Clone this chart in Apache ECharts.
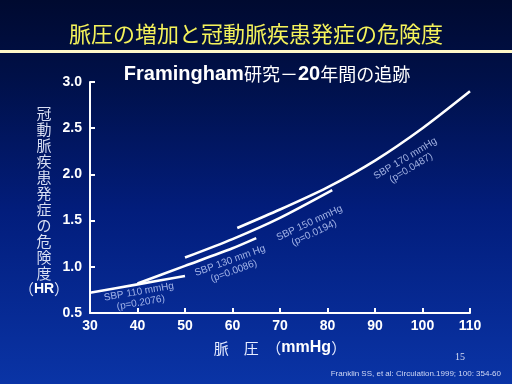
<!DOCTYPE html>
<html>
<head>
<meta charset="utf-8">
<script src="https://cdn.jsdelivr.net/npm/echarts@6/dist/echarts.min.js"></script>
<style>
html,body{margin:0;padding:0;background:#000a30;}
#c{width:512px;height:384px;}
</style>
</head>
<body>
<div id="c"></div>
<script>
// ---- data ----
const xTicks = [30, 40, 50, 60, 70, 80, 90, 100, 110];
const yTicks = [0.5, 1.0, 1.5, 2.0, 2.5, 3.0];

const sbp110X = [30, 40, 50];
const sbp110Y = [0.72, 0.81, 0.90];
const sbp130X = [40, 50, 60, 65];
const sbp130Y = [0.82, 1.01, 1.20, 1.31];
const sbp150X = [50, 60, 70, 81];
const sbp150Y = [1.10, 1.30, 1.53, 1.83];
const sbp170X = [61, 70, 80, 90, 100, 110];
const sbp170Y = [1.42, 1.62, 1.86, 2.15, 2.50, 2.90];

const labelText = ['SBP 110 mmHg\n(p=0.2076)', 'SBP 130 mm Hg\n(p=0.0086)', 'SBP 150 mmHg\n(p=0.0194)', 'SBP 170 mmHg\n(p=0.0487)'];
const labelX = [40.5, 59.9, 76.7, 97.0];
const labelY = [0.67, 1.01, 1.42, 2.12];

const titleText = '脈圧の増加と冠動脈疾患発症の危険度';
const yNameChars = ['冠', '動', '脈', '疾', '患', '発', '症', 'の', '危', '険', '度'];
const citation = 'Franklin SS, et al: Circulation.1999; 100: 354-60';
const pageNo = '15';

// ---- build ----
const zip = (xs, ys) => xs.map((x, i) => [x, ys[i]]);
const labelRot = [10, 20, 25, 31];

const chart = echarts.init(document.getElementById('c'), null, {renderer: 'canvas'});

const lineSeries = (xs, ys) => ({
  type: 'line',
  data: zip(xs, ys),
  smooth: 0.25,
  symbol: 'none',
  lineStyle: {color: '#ffffff', width: 2.6},
  silent: true,
  z: 3
});

chart.setOption({
  animation: false,
  backgroundColor: {
    type: 'linear', x: 0, y: 0, x2: 0, y2: 1,
    colorStops: [
      {offset: 0, color: '#000a30'},
      {offset: 0.2, color: '#001048'},
      {offset: 0.55, color: '#021d7c'},
      {offset: 1, color: '#0a34a6'}
    ]
  },
  grid: {left: 90, right: 42, top: 82, bottom: 71},
  xAxis: {
    type: 'value', min: 30, max: 110, interval: 10,
    axisLine: {show: true, lineStyle: {color: '#ffffff', width: 2}},
    axisTick: {show: true, inside: true, length: 5, lineStyle: {color: '#ffffff', width: 2}},
    splitLine: {show: false},
    axisLabel: {
      color: '#ffffff', fontSize: 14, fontWeight: 'bold',
      fontFamily: 'Liberation Sans, Arial, sans-serif', margin: 6
    },
    name: '{c|脈　圧　（}{b|mmHg}{c|）}',
    nameLocation: 'middle',
    nameGap: 27,
    nameTextStyle: {
      rich: {
        c: {color: '#e6ecff', fontSize: 15, fontFamily: 'Noto Sans CJK JP'},
        b: {color: '#ffffff', fontSize: 16, fontWeight: 'bold', fontFamily: 'Liberation Sans, Arial'}
      }
    }
  },
  yAxis: {
    type: 'value', min: 0.5, max: 3.0, interval: 0.5,
    axisLine: {show: true, lineStyle: {color: '#ffffff', width: 2}},
    axisTick: {show: true, inside: true, length: 5, lineStyle: {color: '#ffffff', width: 2}},
    splitLine: {show: false},
    axisLabel: {
      color: '#ffffff', fontSize: 14, fontWeight: 'bold',
      fontFamily: 'Liberation Sans, Arial, sans-serif', margin: 8,
      formatter: v => v.toFixed(1)
    }
  },
  graphic: [
    {type: 'rect', left: 0, top: 50, shape: {width: 512, height: 3}, style: {fill: '#fff8c8'}, silent: true},
    {type: 'text', left: 'center', top: 23, style: {
      text: titleText, fill: '#f4f25a', fontSize: 22, fontFamily: 'Noto Sans CJK JP'
    }},
    {type: 'text', x: 267, y: 74, style: {
      text: '{l|Framingham}{j|研究－}{l|20}{j|年間の追跡}',
      align: 'center', verticalAlign: 'middle',
      rich: {
        l: {fill: '#ffffff', fontSize: 20, fontWeight: 'bold', fontFamily: 'Liberation Sans, Arial'},
        j: {fill: '#ffffff', fontSize: 18, fontFamily: 'Noto Sans CJK JP'}
      }
    }},
    {type: 'text', x: 44, y: 201, style: {
      text: yNameChars.join('\n') + '\n{p|（}{h|HR}{p|）}',
      align: 'center', verticalAlign: 'middle',
      fill: '#d8def2', fontSize: 15, lineHeight: 16, fontFamily: 'Noto Sans CJK JP',
      rich: {
        p: {fill: '#d8def2', fontSize: 15, lineHeight: 16, fontFamily: 'Noto Sans CJK JP'},
        h: {fill: '#ffffff', fontSize: 14, lineHeight: 16, fontWeight: 'bold', fontFamily: 'Liberation Sans, Arial'}
      }
    }},
    {type: 'text', x: 460, y: 357, style: {
      text: pageNo, fill: '#d8def2', fontSize: 10, fontFamily: 'Liberation Serif, serif',
      align: 'center', verticalAlign: 'middle'
    }},
    {type: 'text', x: 501, y: 374, style: {
      text: citation, fill: '#d0d8f4', fontSize: 8, fontFamily: 'Liberation Sans, Arial',
      align: 'right', verticalAlign: 'middle'
    }}
  ],
  series: [
    lineSeries(sbp110X, sbp110Y),
    lineSeries(sbp130X, sbp130Y),
    lineSeries(sbp150X, sbp150Y),
    lineSeries(sbp170X, sbp170Y),
    {
      type: 'scatter',
      symbolSize: 1,
      itemStyle: {color: 'rgba(0,0,0,0)'},
      silent: true,
      z: 4,
      data: labelText.map((t, i) => ({
        value: [labelX[i], labelY[i]],
        name: t,
        label: {rotate: labelRot[i]}
      })),
      label: {
        show: true,
        position: 'inside',
        formatter: p => p.name,
        color: '#c8d6ff',
        fontSize: 10,
        lineHeight: 11,
        align: 'center',
        verticalAlign: 'middle',
        fontFamily: 'Liberation Sans, Arial'
      }
    }
  ]
});
</script>
</body>
</html>
